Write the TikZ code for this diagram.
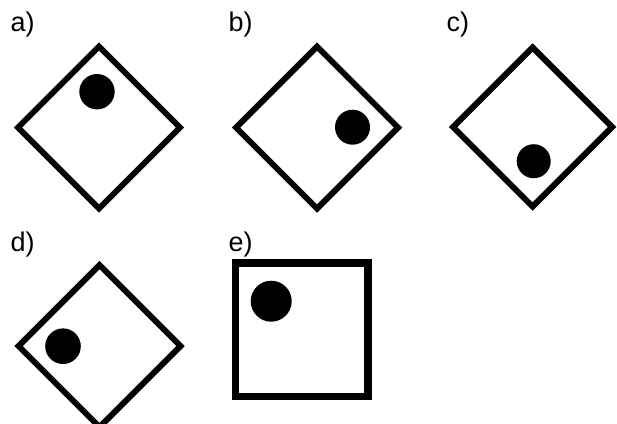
\documentclass[tikz,border=0pt]{standalone}
\usepackage{fontspec}
\setmainfont{Liberation Sans}
\tikzset{
  lbl/.style={anchor=base west, inner sep=0pt, font=\fontsize{27}{32}\selectfont},
  frame/.style={draw=black, line width=6pt},
  ball/.style={fill=black}
}
\begin{document}
\begin{tikzpicture}[x=1pt, y=-1pt]
\useasboundingbox (0,0) rectangle (617,423);

  % Draw labels
  \node[lbl] (la) at (10.5,31.7) {a)};
  \node[lbl] (lb) at (228.5,31.7) {b)};
  \node[lbl] (lc) at (446.5,31.7) {c)};
  \node[lbl] (ld) at (10.5,251.7) {d)};
  \node[lbl] (le) at (228.5,251.7) {e)};

  % Draw tilted boxes
  \foreach \cx/\cy/\h in {99/127.5/81, 317/127.5/81, 532.5/127/79.5, 99.5/346/81}
    \draw[frame] (\cx-\h,\cy) -- (\cx,\cy-\h) -- (\cx+\h,\cy) -- (\cx,\cy+\h) -- cycle;

  % Draw upright box
  \draw[frame, line width=7.3pt] (235.5,263) rectangle (368,396.3);

  % Draw balls
  \foreach \bx/\by/\br in {97/91.7/17.7, 352.5/127.2/17.5, 533.7/161.2/17,
                           63/346.2/17.8, 271.2/301.2/20.5}
    \fill[ball] (\bx,\by) circle[radius=\br];
\end{tikzpicture}
\end{document}
